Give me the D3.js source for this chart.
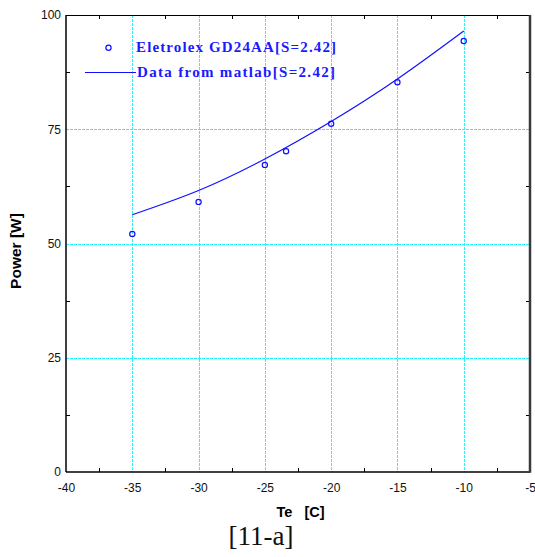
<!DOCTYPE html>
<html>
<head>
<meta charset="utf-8">
<script src="https://cdn.jsdelivr.net/npm/d3@7"></script>
<style>
  body { margin: 0; background: #fff; }
  svg { display: block; }
</style>
</head>
<body>
<div id="chart"></div>
<script>
// measured points (Eletrolex GD24AA)
var teMeasured = [-35, -30, -25, -23.4, -20, -15, -10];
var powerMeasured = [52.1, 59.1, 67.2, 70.2, 76.2, 85.3, 94.3];
// model curve (matlab)
var teModel = [-35, -30, -25, -20, -15, -10];
var powerModel = [56.3, 61.6, 68.5, 76.7, 86.0, 96.5];

var xTicks = [-40, -35, -30, -25, -20, -15, -10, -5];
var yTicks = [0, 25, 50, 75, 100];
var xMinor = [-37.5, -32.5, -27.5, -22.5, -17.5, -12.5, -7.5];
var yMinor = [12.5, 37.5, 62.5, 87.5];
var legendLabels = ["Eletrolex GD24AA[S=2.42]", "Data from matlab[S=2.42]"];

var width = 535, height = 557;
var pLeft = 66, pTop = 15, pRight = 530, pBottom = 472;

var svg = d3.select("#chart").append("svg")
    .attr("width", width)
    .attr("height", height);

var x = d3.scaleLinear().domain([-40, -5]).range([pLeft, pRight]);
var y = d3.scaleLinear().domain([0, 100]).range([pBottom, pTop]);

// grid
var grid = svg.append("g").attr("stroke", "#22f4ff").attr("stroke-width", 1)
    .attr("stroke-dasharray", "3,1")
    .attr("shape-rendering", "crispEdges");
grid.selectAll("line.gx")
    .data(xTicks.slice(1, -1))
    .enter().append("line")
    .attr("x1", function (d) { return Math.round(x(d)) + 0.5; })
    .attr("x2", function (d) { return Math.round(x(d)) + 0.5; })
    .attr("y1", pTop).attr("y2", pBottom);
grid.selectAll("line.gy")
    .data(yTicks.slice(1, -1))
    .enter().append("line")
    .attr("y1", function (d) { return Math.round(y(d)) + 0.5; })
    .attr("y2", function (d) { return Math.round(y(d)) + 0.5; })
    .attr("x1", pLeft).attr("x2", pRight);

// minor ticks, inward on all sides
var ticks = svg.append("g").attr("stroke", "#000").attr("stroke-width", 1)
    .attr("shape-rendering", "crispEdges");
xMinor.forEach(function (d) {
  var px = Math.round(x(d)) + 0.5;
  ticks.append("line").attr("x1", px).attr("x2", px).attr("y1", pTop).attr("y2", pTop + 4);
  ticks.append("line").attr("x1", px).attr("x2", px).attr("y1", pBottom).attr("y2", pBottom - 4);
});
yMinor.forEach(function (d) {
  var py = Math.round(y(d)) + 0.5;
  ticks.append("line").attr("y1", py).attr("y2", py).attr("x1", pLeft).attr("x2", pLeft + 4);
  ticks.append("line").attr("y1", py).attr("y2", py).attr("x1", pRight).attr("x2", pRight - 4);
});

// axes labels through d3 axes
var xAxis = svg.append("g")
    .attr("transform", "translate(0," + pBottom + ")")
    .call(d3.axisBottom(x).tickValues(xTicks).tickSize(0).tickPadding(11).tickFormat(String));
var yAxis = svg.append("g")
    .attr("transform", "translate(" + pLeft + ",0)")
    .call(d3.axisLeft(y).tickValues(yTicks).tickSize(0).tickPadding(5).tickFormat(String));
[xAxis, yAxis].forEach(function (a) {
  a.select(".domain").remove();
  a.selectAll("text")
    .attr("font-family", "Liberation Sans, Arial, sans-serif")
    .attr("font-size", 12)
    .attr("fill", "#111");
});

// frame
svg.append("line").attr("x1", pLeft).attr("x2", pRight).attr("y1", pTop + 0.5).attr("y2", pTop + 0.5)
    .attr("stroke", "#000").attr("stroke-width", 1);
svg.append("line").attr("x1", pLeft).attr("x2", pRight).attr("y1", pBottom).attr("y2", pBottom)
    .attr("stroke", "#000").attr("stroke-width", 1.5);
svg.append("line").attr("x1", pLeft).attr("x2", pLeft).attr("y1", pTop).attr("y2", pBottom)
    .attr("stroke", "#000").attr("stroke-width", 1.5);
svg.append("line").attr("x1", pRight).attr("x2", pRight).attr("y1", pTop).attr("y2", pBottom + 0.75)
    .attr("stroke", "#3a3a3a").attr("stroke-width", 2.5);

// model curve
var line = d3.line()
    .x(function (d, i) { return x(teModel[i]); })
    .y(function (d) { return y(d); })
    .curve(d3.curveNatural);
svg.append("path")
    .datum(powerModel)
    .attr("d", line)
    .attr("fill", "none")
    .attr("stroke", "#1010ff")
    .attr("stroke-width", 1.2);

// measured markers
svg.selectAll("circle.pt")
    .data(powerMeasured)
    .enter().append("circle")
    .attr("class", "pt")
    .attr("cx", function (d, i) { return x(teMeasured[i]); })
    .attr("cy", function (d) { return y(d); })
    .attr("r", 2.6)
    .attr("fill", "none")
    .attr("stroke", "#1010ff")
    .attr("stroke-width", 1.2);

// legend
svg.append("circle").attr("cx", 108.5).attr("cy", 47.7).attr("r", 2.6)
    .attr("fill", "none").attr("stroke", "#1010ff").attr("stroke-width", 1.2);
svg.append("line").attr("x1", 85).attr("x2", 136).attr("y1", 72.5).attr("y2", 72.5)
    .attr("stroke", "#1010ff").attr("stroke-width", 1.2);
svg.selectAll("text.leg")
    .data(legendLabels)
    .enter().append("text")
    .attr("class", "leg")
    .attr("x", function (d, i) { return i === 0 ? 136 : 137; })
    .attr("y", function (d, i) { return i === 0 ? 52 : 77; })
    .attr("font-family", "Liberation Serif, Times New Roman, serif")
    .attr("font-weight", "bold")
    .attr("font-size", 15)
    .attr("fill", "#1a1aff")
    .attr("textLength", function (d, i) { return i === 0 ? 200 : 198; })
    .attr("lengthAdjust", "spacing")
    .text(function (d) { return d; });

// axis titles
svg.append("text")
    .attr("x", 300.5).attr("y", 516.5)
    .attr("text-anchor", "middle")
    .attr("font-family", "Liberation Sans, Arial, sans-serif")
    .attr("font-weight", "bold")
    .attr("font-size", 14.5)
    .style("white-space", "pre")
    .text("Te   [C]");
svg.append("text")
    .attr("transform", "translate(20.5,251) rotate(-90)")
    .attr("text-anchor", "middle")
    .attr("font-family", "Liberation Sans, Arial, sans-serif")
    .attr("font-weight", "bold")
    .attr("font-size", 15.5)
    .text("Power [W]");

// caption
svg.append("text")
    .attr("x", 261).attr("y", 545)
    .attr("text-anchor", "middle")
    .attr("font-family", "Liberation Serif, Times New Roman, serif")
    .attr("font-size", 27)
    .attr("fill", "#111")
    .text("[11-a]");
</script>
</body>
</html>
